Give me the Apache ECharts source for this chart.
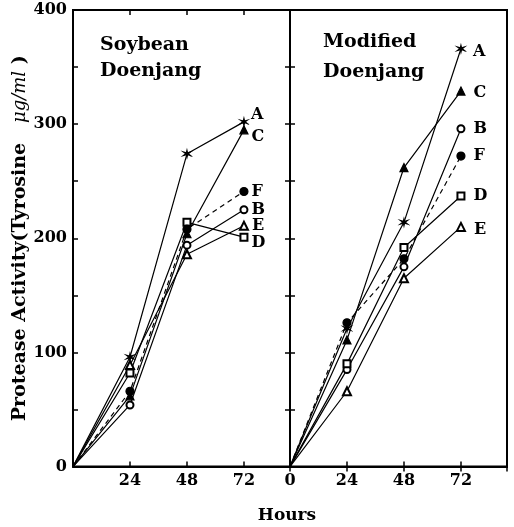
<!DOCTYPE html>
<html><head><meta charset="utf-8">
<script src="https://cdn.jsdelivr.net/npm/echarts@6/dist/echarts.min.js"></script>
<style>html,body{margin:0;padding:0;background:#fff}#c{width:514px;height:527px}</style>
</head><body><div id="c"></div>
<script>
// ---- data ----
const hours = [0, 24, 48, 72];
const seriesNames = ['A', 'B', 'C', 'D', 'E', 'F'];
const soybeanA = [0, 96, 274, 302];
const soybeanB = [0, 54, 194, 225];
const soybeanC = [0, 62, 204, 295];
const soybeanD = [0, 82, 214, 201];
const soybeanE = [0, 89, 186, 211];
const soybeanF = [0, 66, 208, 241];
const modifiedA = [0, 121, 214, 366];
const modifiedB = [0, 85, 175, 296];
const modifiedC = [0, 111, 262, 329];
const modifiedD = [0, 90, 192, 237];
const modifiedE = [0, 66, 165, 210];
const modifiedF = [0, 126, 182, 272];
const yTickLabels = ['0', '100', '200', '300', '400'];
const xTickLabels = ['0', '24', '48', '72'];
const panelTitles = ['Soybean\nDoenjang', 'Modified\nDoenjang'];

// ---- styling ----
const FONT = 'DejaVu Serif';
const STAR = 'path://M0,-10 L1.5,-2.6 L8.66,-5 L3,0 L8.66,5 L1.5,2.6 L0,10 L-1.5,2.6 L-8.66,5 L-3,0 L-8.66,-5 L-1.5,-2.6 Z';
const symbols = {A: STAR, B: 'emptyCircle', C: 'triangle', D: 'emptyRect', E: 'emptyTriangle', F: 'circle'};
const symSizes = {A: 7, B: 7, C: 8, D: 7, E: 8, F: 8};
const leftOffsets = {A: -7, B: 0, C: 7, D: 6, E: 0, F: 0};
const rightOffsets = {A: 3, B: 0, C: 2, D: 0, E: 3, F: 0};

const soyData = {A: soybeanA, B: soybeanB, C: soybeanC, D: soybeanD, E: soybeanE, F: soybeanF};
const modData = {A: modifiedA, B: modifiedB, C: modifiedC, D: modifiedD, E: modifiedE, F: modifiedF};

function makeSeries(name, values, gi, offsets, dist) {
  return {
    type: 'line', name: name,
    xAxisIndex: gi * 2, yAxisIndex: gi === 0 ? 0 : 1,
    symbol: symbols[name], symbolSize: symSizes[name],
    color: '#000',
    lineStyle: {color: '#000', width: 1.2, type: name === 'F' ? [5, 4] : 'solid'},
    itemStyle: {color: '#000', borderColor: '#000', borderWidth: 1.2},
    showAllSymbol: true,
    z: 3,
    data: values.map(function (v, i) {
      const item = {value: [hours[i], v]};
      if (i === 0) item.symbol = 'none';
      if (i === values.length - 1) {
        item.label = {show: true, formatter: name, position: 'right', distance: dist,
          offset: [0, offsets[name]], color: '#000', fontFamily: FONT, fontWeight: 'bold', fontSize: 16};
      }
      return item;
    })
  };
}

const series = [];
seriesNames.forEach(function (n) { series.push(makeSeries(n, soyData[n], 0, leftOffsets, 3)); });
seriesNames.forEach(function (n) { series.push(makeSeries(n, modData[n], 1, rightOffsets, 8)); });

const tickStyle = {show: true, inside: true, length: 5, lineStyle: {color: '#000', width: 1.5}};
const lineStyle = {show: true, lineStyle: {color: '#000', width: 2}};
const labelFont = {color: '#000', fontFamily: FONT, fontWeight: 'bold', fontSize: 16};

function xAx(gi, pos, showLabels, skipZero) {
  return {
    type: 'value', gridIndex: gi, position: pos, min: 0, max: 91.4, interval: 24,
    axisLine: lineStyle, axisTick: tickStyle, splitLine: {show: false},
    axisLabel: Object.assign({show: showLabels, margin: 6,
      formatter: function (v) { const s = String(v); if (skipZero && s === '0') return ''; return xTickLabels.indexOf(s) >= 0 ? s : ''; }
    }, labelFont)
  };
}
function yAx(gi, pos, showLabels, withName) {
  const ax = {
    type: 'value', gridIndex: gi, position: pos, min: 0, max: 400, interval: 50,
    axisLine: lineStyle, axisTick: tickStyle, splitLine: {show: false},
    axisLabel: Object.assign({show: showLabels, margin: 6,
      formatter: function (v) { const s = String(v); return yTickLabels.indexOf(s) >= 0 ? s : ''; }
    }, labelFont)
  };
  if (withName) {
    ax.name = '{n|Protease Activity(Tyrosine   }{i|μg/ml}{n| )}';
    ax.nameLocation = 'middle';
    ax.nameRotate = 90;
    ax.nameGap = 41;
    ax.nameTextStyle = {rich: {
      n: {fontFamily: FONT, fontWeight: 'bold', fontSize: 19, color: '#000'},
      i: {fontFamily: FONT, fontStyle: 'italic', fontSize: 18, color: '#000'}
    }};
  }
  return ax;
}

const option = {
  animation: false,
  backgroundColor: '#fff',
  title: [
    {text: panelTitles[0], left: 95, top: 27, textStyle: {fontFamily: FONT, fontWeight: 'bold', fontSize: 19, lineHeight: 26, color: '#000'}},
    {text: panelTitles[1], left: 318, top: 22, textStyle: {fontFamily: FONT, fontWeight: 'bold', fontSize: 19, lineHeight: 30, color: '#000'}}
  ],
  grid: [
    {left: 73, top: 10, width: 217, bottom: 60.4, show: true, borderColor: '#000', borderWidth: 2, backgroundColor: 'transparent'},
    {left: 290, top: 10, width: 217, bottom: 60.4, show: true, borderColor: '#000', borderWidth: 2, backgroundColor: 'transparent'}
  ],
  xAxis: [
    xAx(0, 'bottom', true, true), xAx(0, 'top', false, false),
    xAx(1, 'bottom', true, false), xAx(1, 'top', false, false)
  ],
  yAxis: [
    yAx(0, 'left', true, true), yAx(1, 'left', false, false), yAx(1, 'right', false, false)
  ],
  graphic: [
    {type: 'text', x: 287, y: 516, style: {text: 'Hours', fontFamily: FONT, fontWeight: 'bold', fontSize: 17, fill: '#000', align: 'center', verticalAlign: 'middle'}}
  ],
  series: series
};

const chart = echarts.init(document.getElementById('c'), null, {renderer: 'canvas'});
chart.setOption(option);
</script>
</body></html>
